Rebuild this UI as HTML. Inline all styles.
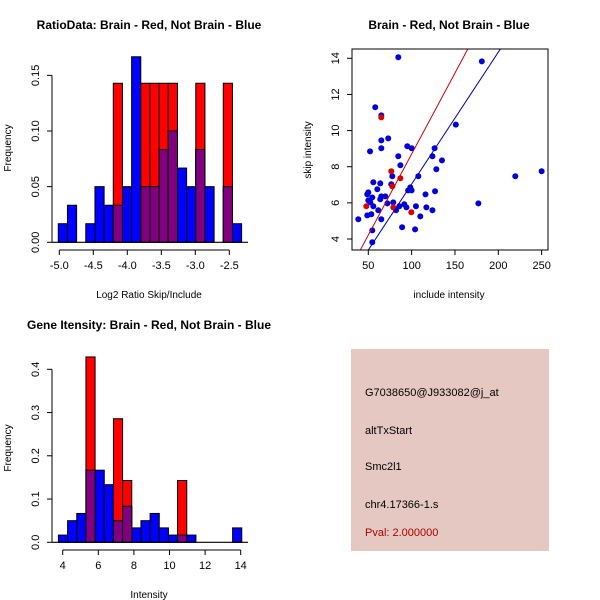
<!DOCTYPE html>
<html><head><meta charset="utf-8"><style>
html,body{margin:0;padding:0;background:#fff;}
svg{display:block;font-family:"Liberation Sans",Arial,sans-serif;}
</style></head><body>
<svg id="s" width="600" height="600" viewBox="0 0 600 600" xmlns="http://www.w3.org/2000/svg">
<rect width="600" height="600" fill="#fff"/>
<g id="p1"></g>
<g id="p2"></g>
<g id="p3"></g>
<g>
<rect x="351" y="349" width="198" height="202" fill="#e6c8c2"/>
<text x="365" y="396" font-size="11">G7038650@J933082@j_at</text>
<text x="365" y="434" font-size="11">altTxStart</text>
<text x="365" y="470" font-size="11">Smc2l1</text>
<text x="365" y="508" font-size="11">chr4.17366-1.s</text>
<text x="365" y="536" font-size="11" fill="#b00000">Pval: 2.000000</text>
</g>
</svg>
<script>
// ---- histogram 1 data ----
const h1Blue=[0.0167,0.0333,0,0.0167,0.05,0.0333,0.0333,0.05,0.1667,0.05,0.05,0.0833,0.1,0.0667,0.05,0.0833,0.05,0,0.05,0.0167];
const h1Red=[0,0,0,0,0,0,0.1429,0,0,0.1429,0.1429,0.1429,0.1429,0,0,0.1429,0,0,0.1429,0];
const h1XTicks=[-5.0,-4.5,-4.0,-3.5,-3.0,-2.5];
const h1YTicks=[0,0.05,0.10,0.15];
// ---- histogram 2 data ----
const h2Blue=[0.0167,0.05,0.0667,0.1667,0.1667,0.1333,0.05,0.0833,0.0333,0.05,0.0667,0.0333,0.0167,0.0167,0.0167,0,0,0,0,0.0333];
const h2Red=[0,0,0,0.4286,0,0,0.2857,0.1429,0,0,0,0,0,0.1429,0,0,0,0,0,0];
const h2XTicks=[4,6,8,10,12,14];
const h2YTicks=[0,0.1,0.2,0.3,0.4];
// ---- scatter data ----
const blueX=[84.6,181,58,65,151,73,65,95,100,126.5,65,52,84.6,124,135,87,128.5,250,219.6,77.7,107.7,55.8,63.8,76.5,77.7,98.5,96,100,60.4,127,50,48.8,116,65,69.6,54.6,63.8,50,52.3,72,78.8,91.5,177,55.8,85.8,94,105,117,61.5,82,124,48.8,53.5,110,38.5,65,89,104,54.6,54.6];
const blueY=[14.06,13.83,11.29,10.84,10.33,9.57,9.46,9.13,9.02,9.02,9.02,8.85,8.58,8.58,8.35,8.08,7.86,7.75,7.47,7.47,7.47,7.14,7.08,7.03,6.92,6.86,6.69,6.69,6.75,6.64,6.58,6.47,6.47,6.36,6.36,6.3,6.2,6.14,6.03,5.97,6.03,5.92,5.97,5.81,5.81,5.75,5.81,5.75,5.59,5.59,5.59,5.31,5.37,5.25,5.09,5.09,4.65,4.53,4.48,3.82];
const redX=[47.7,65,76.5,87,77.7,78.8,99.6];
const redY=[5.81,10.73,7.75,7.36,6.92,5.75,5.48];
const redFit=[-0.27,0.0897];
const blueFit=[-0.26,0.073];
const scXTicks=[50,100,150,200,250];
const scYTicks=[4,6,8,10,12,14];

const NS="http://www.w3.org/2000/svg";
function mk(parent,tag,attrs,txt){const e=document.createElementNS(NS,tag);for(const k in attrs)e.setAttribute(k,attrs[k]);if(txt!==undefined)e.textContent=txt;parent.appendChild(e);return e;}

function hist(g,o){
  const xs=v=>o.x0px+(v-o.x0)*o.xs, ys=v=>o.y0px-v*o.ys;
  function bar(i,h,col,name){
    const a=o.b0+i*o.bw;
    const r=mk(g,'rect',{x:xs(a),y:ys(h),width:o.bw*o.xs,height:h*o.ys,fill:col,stroke:'#000','stroke-width':1});
    
    
  }
  o.blue.forEach((h,i)=>{if(h>0)bar(i,h,'#0000ff','bar-blue-'+i);});
  o.red.forEach((h,i)=>{if(h>0)bar(i,h,'#ff0000','bar-red-'+i);});
  o.red.forEach((h,i)=>{const m=Math.min(h,o.blue[i]);if(h>0&&m>0)bar(i,m,'#800080','bar-overlap-'+i);});
  const bl=mk(g,'line',{x1:52,x2:248,y1:ys(0),y2:ys(0),stroke:'#000','stroke-width':1.2});
  
  const yt=o.yt, ax=o.axX;
  mk(g,'line',{x1:ax,x2:ax,y1:ys(yt[0]),y2:ys(yt[yt.length-1]),stroke:'#000'});
  yt.forEach(v=>{mk(g,'line',{x1:ax-5,x2:ax,y1:ys(v),y2:ys(v),stroke:'#000'});
    const t=mk(g,'text',{x:ax-13,y:ys(v),'font-size':11,'text-anchor':'middle',transform:`rotate(-90 ${ax-13} ${ys(v)})`},o.yfmt(v));
    });
  const xt=o.xt, ay=o.axY;
  mk(g,'line',{x1:xs(xt[0]),x2:xs(xt[xt.length-1]),y1:ay,y2:ay,stroke:'#000'});
  xt.forEach(v=>{mk(g,'line',{x1:xs(v),x2:xs(v),y1:ay,y2:ay+5,stroke:'#000'});
    const t=mk(g,'text',{x:xs(v),y:ay+19,'font-size':11,'text-anchor':'middle'},o.xfmt(v));
    });
  let t=mk(g,'text',{x:149,y:o.titleY,'font-size':12,'font-weight':'bold','text-anchor':'middle'},o.title);
  
  t=mk(g,'text',{x:149,y:o.xlabY,'font-size':10,'text-anchor':'middle'},o.xlab);
  
  t=mk(g,'text',{x:11,y:o.ylabY,'font-size':10,'text-anchor':'middle',transform:`rotate(-90 11 ${o.ylabY})`},'Frequency');
  
}
hist(document.getElementById('p1'),{blue:h1Blue,red:h1Red,x0:-5,x0px:59.3,xs:68,y0px:242.3,ys:1113,b0:-5.015,bw:0.1348,
  xt:h1XTicks,yt:h1YTicks,axX:52,axY:250,xfmt:v=>v.toFixed(1),yfmt:v=>v.toFixed(2),
  title:'RatioData: Brain - Red, Not Brain - Blue',titleY:29,xlab:'Log2 Ratio Skip/Include',xlabY:298,ylabY:148});
hist(document.getElementById('p3'),{blue:h2Blue,red:h2Red,x0:4,x0px:62.7,xs:17.8,y0px:542.3,ys:432.5,b0:3.76,bw:0.515,
  xt:h2XTicks,yt:h2YTicks,axX:52,axY:550,xfmt:v=>String(v),yfmt:v=>v.toFixed(1),
  title:'Gene Itensity: Brain - Red, Not Brain - Blue',titleY:329,xlab:'Intensity',xlabY:598,ylabY:448});

(function(){
  const g=document.getElementById('p2');
  const L=352,R=548,T=49,B=250;
  const xs=v=>368.3+(v-50)*0.8667, ys=v=>239-(v-4)*18.07;
  const cp=mk(g,'clipPath',{id:'clip'});
  mk(cp,'rect',{x:L,y:T,width:R-L,height:B-T});
  blueX.forEach((x,i)=>{const c=mk(g,'circle',{cx:xs(x),cy:ys(blueY[i]),r:3,fill:'#0000dd'});
    });
  redX.forEach((x,i)=>{const c=mk(g,'circle',{cx:xs(x),cy:ys(redY[i]),r:3,fill:'#dd0000'});
    });
  [[redFit,'#cc0000','fit-line-red'],[blueFit,'#0000aa','fit-line-blue']].forEach(([f,col,n])=>{
    const l=mk(g,'line',{x1:xs(0),y1:ys(f[0]),x2:xs(300),y2:ys(f[0]+f[1]*300),stroke:col,'stroke-width':1,'clip-path':'url(#clip)'});
    });
  const box=mk(g,'rect',{x:L,y:T,width:R-L,height:B-T,fill:'none',stroke:'#000'});
  
  scXTicks.forEach(v=>{mk(g,'line',{x1:xs(v),x2:xs(v),y1:B,y2:B+5,stroke:'#000'});
    const t=mk(g,'text',{x:xs(v),y:B+19,'font-size':11,'text-anchor':'middle'},String(v));
    });
  scYTicks.forEach(v=>{mk(g,'line',{x1:L-5,x2:L,y1:ys(v),y2:ys(v),stroke:'#000'});
    const t=mk(g,'text',{x:L-13,y:ys(v),'font-size':11,'text-anchor':'middle',transform:`rotate(-90 ${L-13} ${ys(v)})`},String(v));
    });
  let t=mk(g,'text',{x:449,y:29,'font-size':12,'font-weight':'bold','text-anchor':'middle'},'Brain - Red, Not Brain - Blue');
  
  t=mk(g,'text',{x:449,y:298,'font-size':10,'text-anchor':'middle'},'include intensity');
  
  t=mk(g,'text',{x:311,y:150,'font-size':10,'text-anchor':'middle',transform:'rotate(-90 311 150)'},'skip intensity');
  
})();
</script>
</body></html>
